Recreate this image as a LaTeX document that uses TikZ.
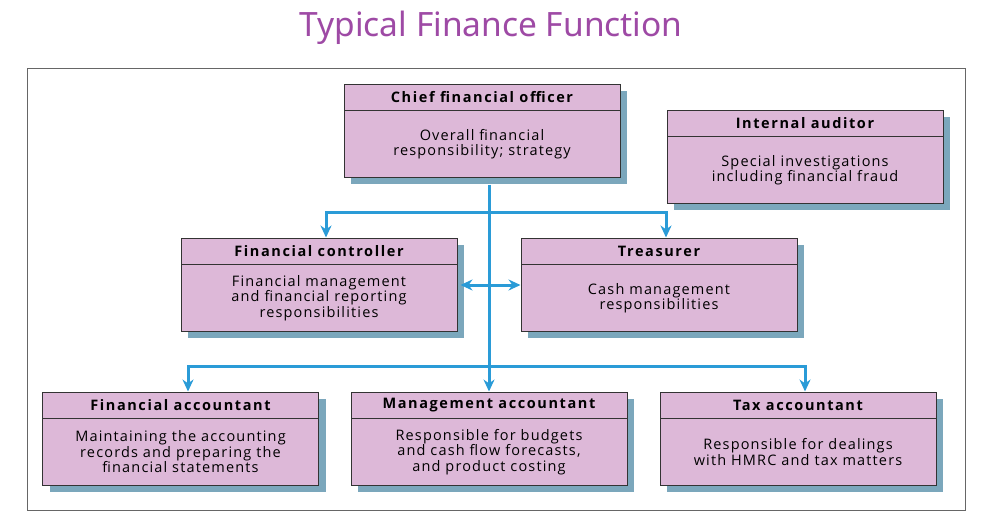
\documentclass[tikz,border=0pt]{standalone}
\usepackage{fontspec}
\setmainfont{Open Sans}
\newfontfamily\boxfont[LetterSpace=8]{Open Sans}
\newfontfamily\headfont[LetterSpace=11]{Open Sans}
\newfontfamily\titlefont{Noto Sans}
\usetikzlibrary{arrows.meta,shadows,positioning,calc}
\definecolor{boxfill}{HTML}{DDB8D8}
\definecolor{shadowc}{HTML}{7BA7BC}
\definecolor{linec}{HTML}{2A9BD7}
\definecolor{titlec}{HTML}{9E4AA5}
\definecolor{framec}{HTML}{666666}
\tikzset{
  orgbox/.style={draw=black!80, line width=1pt, fill=boxfill, minimum width=276pt, minimum height=93pt,
    inner sep=0pt, drop shadow={shadow xshift=7pt, shadow yshift=-7pt, opacity=1, fill=shadowc}},
  headbox/.style={draw=black!80, line width=1pt, minimum width=276pt, minimum height=26pt, inner sep=0pt,
    anchor=north, font=\headfont\fontsize{14.5}{15}\selectfont\bfseries},
  bodytext/.style={align=center, inner sep=0pt, font=\boxfont\fontsize{14.5}{15.5}\selectfont},
  conn/.style={draw=linec, line width=3pt, -{Stealth[length=12pt,width=11pt]}},
}
\begin{document}
\begin{tikzpicture}[x=1pt,y=-1pt]
\useasboundingbox (0,0) rectangle (1000,520);
\node[font=\titlefont\fontsize{33.5}{36}\selectfont, text=titlec] (title) at (491,28) {Typical Finance Function};
\draw[framec, line width=1pt] (27,68) rectangle (965,510);

% boxes
\node[orgbox] (cfo) at (482,130.5) {};
\node[orgbox] (ia) at (805,156.5) {};
\node[orgbox] (fc) at (319,284.5) {};
\node[orgbox] (tr) at (659,284.5) {};
\node[orgbox] (fa) at (180.5,438.5) {};
\node[orgbox] (ma) at (489,438.5) {};
\node[orgbox] (ta) at (798,438.5) {};

% headers
\node[headbox] (cfoh) at (cfo.north) {Chief financial officer};
\node[headbox] (iah) at (ia.north) {Internal auditor};
\node[headbox] (fch) at (fc.north) {Financial controller};
\node[headbox] (trh) at (tr.north) {Treasurer};
\node[headbox] (fah) at (fa.north) {Financial accountant};
\node[headbox] (mah) at (ma.north) {Management accountant};
\node[headbox] (tah) at (ta.north) {Tax accountant};

% bodies
\node[bodytext] (cfob) at ($(cfoh.south)!0.5!(cfo.south)$) {Overall financial\\responsibility; strategy};
\node[bodytext] (iab) at ($(iah.south)!0.5!(ia.south)$) {Special investigations\\including financial fraud};
\node[bodytext] (fcb) at ($(fch.south)!0.5!(fc.south)$) {Financial management\\and financial reporting\\responsibilities};
\node[bodytext] (trb) at ($(trh.south)!0.5!(tr.south)$) {Cash management\\responsibilities};
\node[bodytext] (fab) at ($(fah.south)!0.5!(fa.south)$) {Maintaining the accounting\\records and preparing the\\financial statements};
\node[bodytext] (mab) at ($(mah.south)!0.5!(ma.south)$) {Responsible for budgets\\and cash flow forecasts,\\and product costing};
\node[bodytext] (tab) at ($(tah.south)!0.5!(ta.south)$) {Responsible for dealings\\with HMRC and tax matters};

% connectors
\coordinate (top) at ([yshift=-7pt]ma.north |- cfo.south);
\coordinate (j1) at (ma.north |- 0,212);
\coordinate (j2) at (ma.north |- 0,366);
\coordinate (j3) at (ma.north |- 0,285);
\draw[conn] (top) -- (ma.north);
\draw[conn] (j1) -| ([xshift=7pt]fc.north);
\draw[conn] (j1) -| ([xshift=7pt]tr.north);
\draw[conn] (j2) -| ([xshift=7.5pt]fa.north);
\draw[conn] (j2) -| ([xshift=7pt]ta.north);
\draw[conn] (j3) -- ([xshift=3pt]fc.east |- j3);
\draw[conn] (j3) -- (tr.west |- j3);
\end{tikzpicture}
\end{document}
